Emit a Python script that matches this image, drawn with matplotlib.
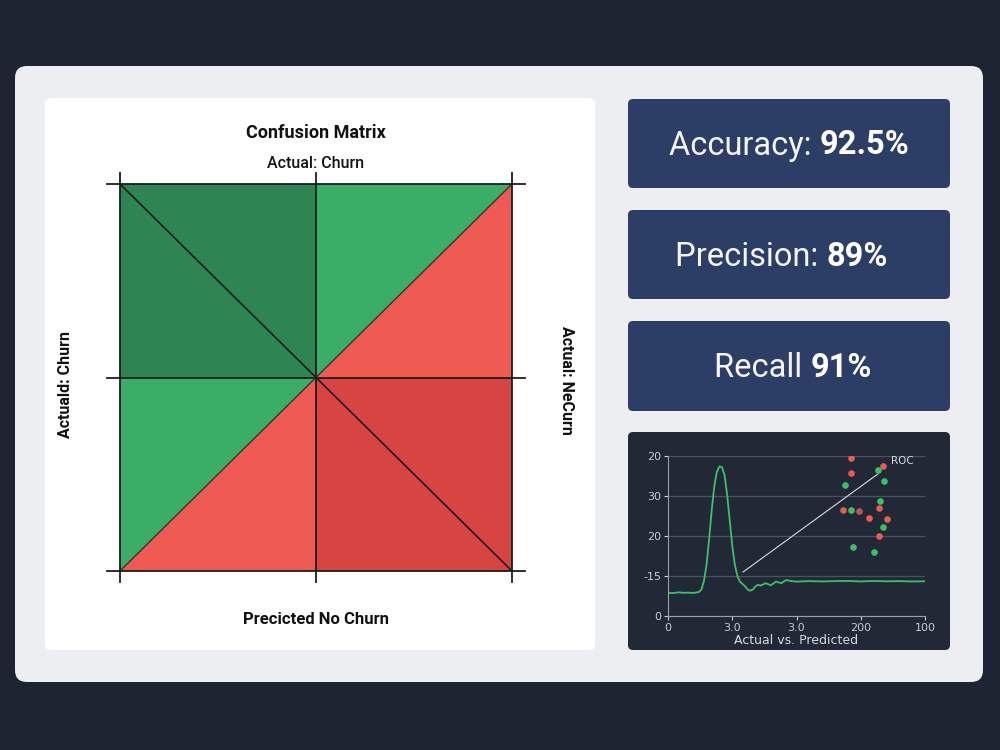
import matplotlib
matplotlib.use('Agg')
import matplotlib.pyplot as plt
from matplotlib.patches import FancyBboxPatch, Polygon

# Datos
metricas = ['Accuracy: ', 'Precision: ', 'Recall ']
valores = ['92.5%', '89%', '91%']

# celdas de la matriz: (vertices en unidades de celda, color)
celdas_verde_osc = [[(0, 1), (1, 1), (1, 2), (0, 2)]]
celdas_verde = [[(1, 1), (1, 2), (2, 2)], [(0, 0), (0, 1), (1, 1)]]
celdas_rojo = [[(1, 1), (2, 1), (2, 2)], [(0, 0), (1, 0), (1, 1)]]
celdas_rojo_osc = [[(1, 0), (2, 0), (2, 1), (1, 1)]]

# curva verde del panel pequeño
curva_x = [0, 2, 4, 6, 8, 10, 12, 13, 14, 15, 16, 17, 18, 19, 20, 21, 22, 23, 24, 25,
           26, 27, 28, 29, 30, 31, 32, 33, 34, 35, 36, 38, 40, 42, 44, 46, 48, 50,
           55, 60, 65, 70, 75, 80, 85, 90, 95, 100]
curva_y = [14.5, 14.3, 14.8, 14.5, 14.6, 14.4, 15.0, 16.5, 22, 32, 48, 66, 81, 90, 93.5,
           93, 88, 76, 60, 44, 32, 25, 21.5, 20, 18.5, 16.5, 15.8, 16.5, 18.5, 19.5,
           19.0, 20.5, 19.2, 21.5, 20.5, 22.5, 21.8, 21.5, 21.8, 21.6, 21.8, 21.9, 21.6,
           21.9, 21.7, 21.8, 21.6, 21.7]
roc_x = [29.2, 81.7]
roc_y = [27.5, 88.8]
rojos_x = [71.1, 71.3, 83.8, 68.1, 78.1, 82.2, 85.1, 82.2]
rojos_y = [98.9, 89.6, 93.9, 66.3, 61.5, 67.3, 60.8, 50.0]
marron_x = [74.4]
marron_y = [65.6]
verdes_x = [81.7, 84.2, 68.7, 82.6, 71.3, 83.7, 72.0, 80.0]
verdes_y = [91.3, 84.6, 82.1, 71.9, 66.3, 55.8, 42.9, 40.2]
ticks_x_lbl = ['0', '3.0', '3.0', '200', '100']
ticks_y_lbl = ['0', '-15', '20', '30', '20']

W, H = 1000, 750
fig = plt.figure(figsize=(10, 7.5), dpi=100)
fig.patch.set_facecolor('#1e2532')

# capa de fondo en pixeles
bg = fig.add_axes([0, 0, 1, 1])
bg.set_xlim(0, W)
bg.set_ylim(H, 0)
bg.axis('off')


def caja(x0, y0, x1, y1, color, r=8, z=1, sombra=True):
    if sombra:
        for i, a in enumerate([0.05, 0.04, 0.03]):
            d = 2 + i * 2
            bg.add_patch(FancyBboxPatch((x0 - d + 1, y0 - d + 3), x1 - x0 + 2 * d - 2, y1 - y0 + 2 * d - 2,
                                        boxstyle=f'round,pad=0,rounding_size={r + d}',
                                        fc='black', ec='none', alpha=a, zorder=z - 0.5))
    bg.add_patch(FancyBboxPatch((x0, y0), x1 - x0, y1 - y0,
                                boxstyle=f'round,pad=0,rounding_size={r}',
                                fc=color, ec='none', zorder=z))


caja(15, 66, 983, 682, '#eceef1', r=12, sombra=False)
caja(45, 98, 595, 650, '#ffffff', r=6)
cajas_y = [(99, 188), (210, 299), (321, 411)]
centros_x = [789, 781, 793]
for (y0, y1), xc, m, v in zip(cajas_y, centros_x, metricas, valores):
    caja(628, y0, 950, y1, '#2c3e66', r=5)
    yc = (y0 + y1) / 2 + 2
    t1 = bg.text(0, yc, m, fontsize=23.5, family='Roboto', color='#f4f5f8', va='center', ha='left', zorder=5)
    t2 = bg.text(0, yc, v, fontsize=23.5, family='Roboto', weight='bold', color='white',
                 va='center', ha='left', zorder=5)
    fig.canvas.draw()
    r = fig.canvas.get_renderer()
    w1 = t1.get_window_extent(r).width
    w2 = t2.get_window_extent(r).width
    x0 = xc - (w1 + w2) / 2
    t1.set_x(x0)
    t2.set_x(x0 + w1)
caja(628, 432, 950, 650, '#222936', r=5)

# Matriz de confusion
ax = fig.add_axes([120 / W, 1 - 571 / H, 392 / W, 387 / H])
ax.set_xlim(0, 2)
ax.set_ylim(0, 2)
ax.axis('off')
for lista, col in [(celdas_verde_osc, '#2e8553'), (celdas_verde, '#3aad66'),
                   (celdas_rojo, '#ef5a52'), (celdas_rojo_osc, '#d74542')]:
    for verts in lista:
        ax.add_patch(Polygon(verts, closed=True, fc=col, ec='none'))
lc = '#1c1c1c'
ext = 0.065
for v in [0, 1, 2]:
    ax.plot([-ext, 2 + ext], [v, v], color=lc, lw=1.3, clip_on=False)
    ax.plot([v, v], [-0.055, 2 + 0.055], color=lc, lw=1.3, clip_on=False)
ax.plot([0, 2], [2, 0], color=lc, lw=1.2)
ax.plot([0, 2], [0, 2], color=lc, lw=1.0, alpha=0.8)

bg.text(316, 133, 'Confusion Matrix', fontsize=13, family='Roboto', weight='bold',
        color='#111111', ha='center', va='center', zorder=5)
bg.text(316, 164, 'Actual: Churn', fontsize=11.5, family='Roboto', weight='medium',
        color='#111111', ha='center', va='center', zorder=5)
bg.text(316, 620, 'Precicted No Churn', fontsize=12, family='Roboto', weight='bold',
        color='#111111', ha='center', va='center', zorder=5)
bg.text(66, 384, 'Actuald: Churn', fontsize=11.5, family='Roboto', weight='bold',
        color='#111111', ha='center', va='center', rotation=90, zorder=5)
bg.text(566, 380, 'Actual: NeCurn', fontsize=11.5, family='Roboto', weight='bold',
        color='#111111', ha='center', va='center', rotation=-90, zorder=5)

# Panel pequeño
ax2 = fig.add_axes([668 / W, 1 - 616 / H, 257 / W, 160 / H])
ax2.set_facecolor('none')
ax2.set_xlim(0, 100)
ax2.set_ylim(0, 100)
ax2.set_xticks([0, 25, 50, 75, 100])
ax2.set_xticklabels(ticks_x_lbl)
ax2.set_yticks([0, 25, 50, 75, 100])
ax2.set_yticklabels(ticks_y_lbl)
ax2.grid(axis='y', color='#4a5261', lw=0.9)
ax2.set_axisbelow(True)
for s in ['top', 'right']:
    ax2.spines[s].set_visible(False)
for s in ['left', 'bottom']:
    ax2.spines[s].set_color('#9aa0aa')
    ax2.spines[s].set_linewidth(0.8)
ax2.tick_params(colors='#c9ccd2', labelsize=8, length=3, width=0.8, pad=2)
ax2.plot(curva_x, curva_y, color='#3fbf6a', lw=1.3)
ax2.plot(roc_x, roc_y, color='#d8dadf', lw=0.8)
ax2.scatter(rojos_x, rojos_y, s=14, color='#ef5a52', zorder=4)
ax2.scatter(marron_x, marron_y, s=14, color='#c0574f', zorder=4)
ax2.scatter(verdes_x, verdes_y, s=14, color='#3cbf68', zorder=4)
ax2.text(86.8, 96.9, 'ROC', fontsize=7.5, color='#d8dadf', ha='left', va='center')
ax2.set_xlabel('Actual vs. Predicted', fontsize=9, color='#d8dadf', labelpad=1)

fig.savefig('out.png', dpi=100, facecolor=fig.get_facecolor())
